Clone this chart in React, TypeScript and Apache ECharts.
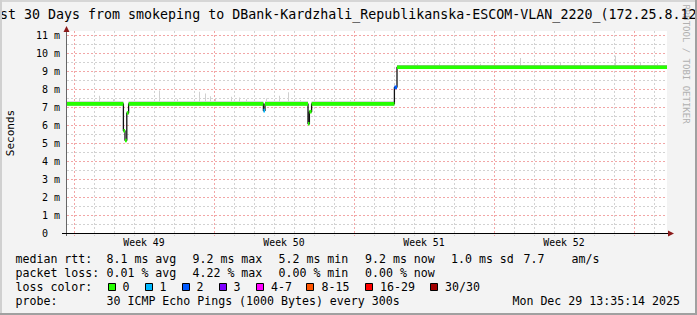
import React, { useEffect, useRef } from 'react';
import * as echarts from 'echarts';

const W = 697;
const H = 315;
const MONO = '"DejaVu Sans Mono", monospace';

// ---------- texts ----------
const titleText = 'st 30 Days from smokeping to DBank-Kardzhali_Republikanska-ESCOM-VLAN_2220_(172.25.8.12';
const yAxisTitle = 'Seconds';
const watermarkText = 'RRDTOOL / TOBI OETIKER';

// ---------- axes ----------
const X_MIN = 0;
const X_MAX = 30; // days
const Y_MIN = 0;
const Y_MAX = 11.26; // ms

const yTickValues = [0, 1, 2, 3, 4, 5, 6, 7, 8, 9, 10, 11];
const yMinorLines = [0.5, 1.5, 2.5, 3.5, 4.5, 5.5, 6.5, 7.5, 8.5, 9.5, 10.5];
const weekLines = [0.35, 7.35, 14.35, 21.35, 28.35];
const dayLines = [
  1.35, 2.35, 3.35, 4.35, 5.35, 6.35, 8.35, 9.35, 10.35, 11.35, 12.35, 13.35,
  15.35, 16.35, 17.35, 18.35, 19.35, 20.35, 22.35, 23.35, 24.35, 25.35, 26.35,
  27.35, 29.35,
];
const weekLabelTimes = [3.85, 10.85, 17.85, 24.85];
const weekLabels = ['Week 49', 'Week 50', 'Week 51', 'Week 52'];

// ---------- data (median rtt steps, ms; loss = lost pings of 30) ----------
const medianTime = [0, 2.82, 2.9, 2.99, 3.08, 9.82, 9.9, 12.05, 12.12, 12.23, 16.37, 16.5];
const medianValue = [7.2, 5.7, 5.16, 6.69, 7.2, 6.82, 7.2, 6.09, 6.76, 7.2, 8.12, 9.24];
const medianLoss = [0, 0, 0, 0, 0, 1, 0, 0, 0, 0, 2, 0];
const smokeLow = [7.1, 5.65, 5.1, 6.62, 7.1, 6.76, 7.1, 6.02, 6.7, 7.1, 8.06, 9.14];
const smokeHigh = [7.33, 5.78, 5.24, 6.78, 7.33, 6.9, 7.33, 6.2, 6.86, 7.33, 8.2, 9.37];

// smoke spikes (time in days, top in ms)
const spikeTime = [0.6, 1.6, 2.3, 4.6, 5.5, 6.6, 6.9, 7.15, 7.4, 8.2, 8.6, 8.98, 9.98, 10.6, 11.07, 11.65, 13.23, 14.15, 15.2, 17.53, 18.6, 20.65, 22.65, 23.65, 24.65, 25.65, 27.4, 28.65, 29.5];
const spikeTop = [7.52, 7.65, 7.45, 7.95, 7.45, 7.88, 7.78, 7.62, 7.5, 7.6, 7.55, 7.45, 7.5, 7.65, 7.85, 7.42, 7.42, 7.4, 7.45, 9.44, 9.45, 9.44, 9.75, 9.5, 9.5, 9.5, 9.88, 9.5, 9.45];

// ---------- legend ----------
const rttLabel = 'median rtt:';
const rttStats = ['8.1 ms avg', '9.2 ms max', '5.2 ms min', '9.2 ms now', '1.0 ms sd', '7.7', 'am/s'];
const lossLabel = 'packet loss:';
const lossStats = ['0.01 % avg', '4.22 % max', '0.00 % min', '0.00 % now'];
const lossColorLabel = 'loss color:';
const lossBuckets = ['0', '1', '2', '3', '4-7', '8-15', '16-29', '30/30'];
const lossColors = ['#26ff00', '#00b8ff', '#0059ff', '#7e00ff', '#ff00ff', '#ff5500', '#ff0000', '#a10000'];
const probeLabel = 'probe:';
const probeText = '30 ICMP Echo Pings (1000 Bytes) every 300s';
const timestampText = 'Mon Dec 29 13:35:14 2025';

// layout positions (pixels)
const rttStatX = [106.5, 192.5, 278.5, 365, 451, 523.5, 571.5];
const lossStatX = [106.5, 192.5, 278.5, 365];
const boxX = [108.5, 145.5, 182.5, 219.5, 256.5, 306.5, 365.5, 430.5];
const boxLabelX = [122.5, 159.5, 196.5, 233.5, 271, 321.5, 380, 445];
const rowY = [258.5, 272.5, 286.5, 300.5];

function bucketOf(loss: number): number {
  if (loss <= 3) return loss;
  if (loss <= 7) return 4;
  if (loss <= 15) return 5;
  if (loss <= 29) return 6;
  return 7;
}

function medianAt(t: number): number {
  let idx = 0;
  for (let i = 0; i < medianTime.length; i++) if (medianTime[i] <= t) idx = i;
  return smokeHigh[idx];
}

function txt(x: number, y: number, text: string, size: number, extra: any = {}) {
  return {
    type: 'text',
    x,
    y,
    z: 50,
    silent: true,
    ...extra,
    style: {
      text,
      fill: extra.fill || '#000',
      fontSize: size,
      fontFamily: MONO,
      align: extra.align || 'left',
      textAlign: extra.align || 'left',
      verticalAlign: 'middle',
      textVerticalAlign: 'middle',
    },
  };
}

export default function App() {
  const ref = useRef<HTMLDivElement>(null);

  useEffect(() => {
    if (!ref.current) return;
    const chart = echarts.init(ref.current, undefined, { renderer: 'svg', width: W, height: H });

    const segEnd = (i: number) => (i + 1 < medianTime.length ? medianTime[i + 1] : X_MAX);

    const medianSegments = medianTime.map((t, i) => [t, segEnd(i), medianValue[i], medianLoss[i]]);
    const smokeSegments = medianTime.map((t, i) => [t, segEnd(i), smokeLow[i], smokeHigh[i]]);
    const spikes = spikeTime.map((t, i) => [t, medianAt(t), spikeTop[i]]);
    const lineData = medianTime.map((t, i) => [t, medianValue[i]]);
    lineData.push([X_MAX, medianValue[medianValue.length - 1]]);

    const vGrid = [
      ...dayLines.map((t) => [t, 0]),
      ...weekLines.map((t) => [t, 1]),
    ];
    const hGrid = [
      ...yMinorLines.map((v) => [v, 0]),
      ...yTickValues.filter((v) => v > 0).map((v) => [v, 1]),
    ];

    const graphics: any[] = [];
    // frame borders
    graphics.push({ type: 'rect', shape: { x: 0, y: 0, width: W, height: 2 }, style: { fill: '#d6d6d6' }, z: 60, silent: true });
    graphics.push({ type: 'rect', shape: { x: 0, y: 0, width: 2, height: H }, style: { fill: '#d0d0d0' }, z: 60, silent: true });
    graphics.push({ type: 'rect', shape: { x: W - 2, y: 0, width: 2, height: H }, style: { fill: '#a0a0a0' }, z: 60, silent: true });
    graphics.push({ type: 'rect', shape: { x: 0, y: H - 2, width: W, height: 2 }, style: { fill: '#a0a0a0' }, z: 60, silent: true });

    // title
    graphics.push(txt(0, 14, titleText, 13.3));
    // y axis name
    graphics.push(txt(10, 133, yAxisTitle, 11, { rotation: Math.PI / 2, align: 'center' }));
    // watermark
    graphics.push(txt(686, 64, watermarkText, 9, { rotation: -Math.PI / 2, align: 'center', fill: '#b0b0b0', z: 1 }));

    // axis lines and arrows
    graphics.push({ type: 'line', shape: { x1: 66.5, y1: 236, x2: 66.5, y2: 30 }, style: { stroke: '#666666', lineWidth: 1 }, z: 40, silent: true });
    graphics.push({ type: 'line', shape: { x1: 62, y1: 233.5, x2: 669, y2: 233.5 }, style: { stroke: '#000000', lineWidth: 1 }, z: 40, silent: true });
    graphics.push({ type: 'polygon', shape: { points: [[63.5, 32], [69.5, 32], [66.5, 26]] }, style: { fill: '#8b1a1a' }, z: 41, silent: true });
    graphics.push({ type: 'polygon', shape: { points: [[668, 230.5], [668, 236.5], [674, 233.5]] }, style: { fill: '#8b1a1a' }, z: 41, silent: true });

    // legend rows
    graphics.push(txt(15.5, rowY[0], rttLabel, 11.6));
    rttStats.forEach((s, i) => graphics.push(txt(rttStatX[i], rowY[0], s, 11.6)));
    graphics.push(txt(15.5, rowY[1], lossLabel, 11.6));
    lossStats.forEach((s, i) => graphics.push(txt(lossStatX[i], rowY[1], s, 11.6)));
    graphics.push(txt(15.5, rowY[2], lossColorLabel, 11.6));
    lossBuckets.forEach((s, i) => {
      graphics.push({
        type: 'rect',
        shape: { x: boxX[i], y: 283.5, width: 7, height: 7 },
        style: { fill: lossColors[i], stroke: '#000', lineWidth: 1 },
        z: 50,
        silent: true,
      });
      graphics.push(txt(boxLabelX[i], rowY[2], s, 11.6));
    });
    graphics.push(txt(15.5, rowY[3], probeLabel, 11.6));
    graphics.push(txt(106.5, rowY[3], probeText, 11.6));
    graphics.push(txt(680, rowY[3], timestampText, 11.6, { align: 'right' }));

    const option: any = {
      animation: false,
      backgroundColor: '#f3f3f3',
      grid: {
        left: 67,
        top: 31,
        width: 600,
        height: 202,
        show: true,
        backgroundColor: '#ffffff',
        borderWidth: 0,
      },
      xAxis: {
        type: 'value',
        min: X_MIN,
        max: X_MAX,
        show: false,
      },
      yAxis: {
        type: 'value',
        min: Y_MIN,
        max: Y_MAX,
        interval: 1,
        axisLine: { show: false },
        axisTick: { show: false },
        splitLine: { show: false },
        axisLabel: {
          margin: 7,
          color: '#000',
          fontFamily: MONO,
          fontSize: 10,
          showMaxLabel: false,
          formatter: (v: number) => {
            if (Math.abs(v - Math.round(v)) > 1e-6) return '';
            if (v === 0) return '{z|0}';
            return `${Math.round(v)} m`;
          },
          rich: {
            z: { padding: [0, 12, 0, 0], fontFamily: MONO, fontSize: 10, color: '#000' },
          },
        },
      },
      graphic: { elements: graphics },
      series: [
        {
          type: 'custom',
          name: 'vgrid',
          z: 1,
          silent: true,
          data: vGrid,
          renderItem: (params: any, api: any) => {
            const t = api.value(0);
            const major = api.value(1) === 1;
            const p0 = api.coord([t, Y_MAX]);
            const p1 = api.coord([t, 0]);
            const x = Math.floor(p0[0]) + 0.5;
            return {
              type: 'line',
              shape: { x1: x, y1: p0[1], x2: x, y2: p1[1] + 3 },
              style: { stroke: major ? '#f2a6a6' : '#d2d2d2', lineWidth: 1, lineDash: [2, 2] },
            };
          },
        },
        {
          type: 'custom',
          name: 'hgrid',
          z: 1,
          silent: true,
          data: hGrid,
          renderItem: (params: any, api: any) => {
            const v = api.value(0);
            const major = api.value(1) === 1;
            const p0 = api.coord([X_MIN, v]);
            const p1 = api.coord([X_MAX, v]);
            const y = Math.floor(p0[1]) + 0.5;
            return {
              type: 'line',
              shape: { x1: p0[0], y1: y, x2: p1[0], y2: y },
              style: { stroke: major ? '#f2a6a6' : '#d2d2d2', lineWidth: 1, lineDash: [2, 2] },
            };
          },
        },
        {
          type: 'custom',
          name: 'smoke',
          z: 2,
          silent: true,
          data: smokeSegments,
          renderItem: (params: any, api: any) => {
            const a = api.coord([api.value(0), api.value(3)]);
            const b = api.coord([api.value(1), api.value(2)]);
            return {
              type: 'rect',
              shape: { x: a[0], y: a[1], width: b[0] - a[0], height: b[1] - a[1] },
              style: { fill: '#b4adb4' },
            };
          },
        },
        {
          type: 'custom',
          name: 'spikes',
          z: 2,
          silent: true,
          data: spikes,
          renderItem: (params: any, api: any) => {
            const a = api.coord([api.value(0), api.value(2)]);
            const b = api.coord([api.value(0), api.value(1)]);
            return {
              type: 'rect',
              shape: { x: Math.floor(a[0]), y: a[1], width: 1, height: b[1] - a[1] },
              style: { fill: '#d0d0d0' },
            };
          },
        },
        {
          type: 'line',
          name: 'median',
          z: 3,
          silent: true,
          step: 'end',
          symbol: 'none',
          data: lineData,
          lineStyle: { color: '#111', width: 1.3 },
        },
        {
          type: 'custom',
          name: 'medianLoss',
          z: 4,
          silent: true,
          data: medianSegments,
          renderItem: (params: any, api: any) => {
            const a = api.coord([api.value(0), api.value(2)]);
            const b = api.coord([api.value(1), api.value(2)]);
            const color = lossColors[bucketOf(api.value(3))];
            return {
              type: 'rect',
              shape: { x: a[0], y: a[1] - 1.8, width: Math.max(1.5, b[0] - a[0]), height: 3.6 },
              style: { fill: color },
            };
          },
        },
        {
          type: 'custom',
          name: 'weekLabels',
          z: 5,
          silent: true,
          data: weekLabelTimes.map((t) => [t, 0]),
          renderItem: (params: any, api: any) => {
            const p = api.coord([api.value(0), 0]);
            return {
              type: 'text',
              x: p[0],
              y: p[1] + 9,
              style: {
                text: weekLabels[params.dataIndex],
                fill: '#000',
                fontSize: 9.8,
                fontFamily: MONO,
                align: 'center',
                textAlign: 'center',
                verticalAlign: 'middle',
                textVerticalAlign: 'middle',
              },
            };
          },
        },
      ],
    };

    chart.setOption(option);
    return () => chart.dispose();
  }, []);

  return (
    <div
      ref={ref}
      style={{ position: 'fixed', left: 0, top: 0, width: W, height: H }}
    />
  );
}
